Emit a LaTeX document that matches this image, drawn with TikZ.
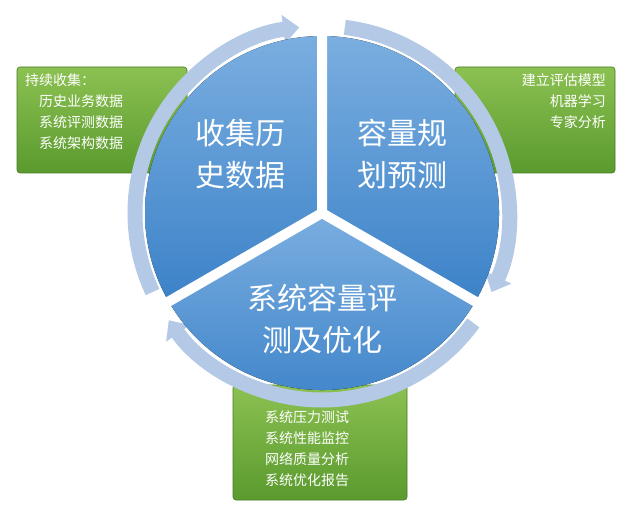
\documentclass[tikz,border=0pt]{standalone}
\usepackage{fontspec}
\setmainfont{Noto Sans CJK SC}
\usetikzlibrary{arrows.meta}
\definecolor{gtop}{HTML}{8CC152}
\definecolor{gbot}{HTML}{5A9A2E}
\definecolor{btop}{HTML}{7AAEE0}
\definecolor{bbot}{HTML}{3C82C8}
\definecolor{ring}{HTML}{B3C9E6}
\tikzset{
  gbox/.style={draw=gbot!80!black,line width=0.6pt,rounded corners=3pt,top color=gtop,bottom color=gbot},
  gtxt/.style={text=white,font=\fontsize{14}{21}\selectfont,inner sep=0pt},
  sector/.style={top color=btop,bottom color=bbot,draw=none},
  big/.style={text=white,font=\fontsize{30}{42}\selectfont,align=center},
  ringarc/.style={draw=ring,line width=15pt,-{Triangle[width=28pt,length=16pt]}},
}
\begin{document}
\begin{tikzpicture}[x=1pt,y=1pt]
\useasboundingbox (0,0) rectangle (640,507);
\fill[white] (0,0) rectangle (640,507);
% green boxes
\draw[gbox] (17,334) rectangle (187,440);
\draw[gbox] (455,334) rectangle (615,440);
\draw[gbox] (233,7) rectangle (407,122);
\node[gtxt,anchor=north west,align=left] (lt) at (25,434) {持续收集：\\\hspace{14pt}历史业务数据\\\hspace{14pt}系统评测数据\\\hspace{14pt}系统架构数据};
\node[gtxt,anchor=north east,align=right] (rt) at (606,434) {建立评估模型\\机器学习\\专家分析};
\node[gtxt,anchor=north west,align=left] (bt) at (265,97) {系统压力测试\\系统性能监控\\网络质量分析\\系统优化报告};
% ring
\coordinate (C) at (322,294);
\draw[ringarc] ([shift={(205:187)}]C) arc[start angle=205,end angle=97,radius=187];
\draw[ringarc] ([shift={(83:187)}]C) arc[start angle=83,end angle=-25,radius=187];
\draw[ringarc] ([shift={(-36:187)}]C) arc[start angle=-36,end angle=-145,radius=187];
% pie
\fill[sector] (C) -- ++(90:177) arc[start angle=90,end angle=210,radius=177] -- cycle;
\fill[sector] (C) -- ++(-30:177) arc[start angle=-30,end angle=90,radius=177] -- cycle;
\fill[sector] (C) -- ++(210:177) arc[start angle=210,end angle=330,radius=177] -- cycle;
\draw[white,line width=10pt] (C) -- ++(90:185) (C) -- ++(210:185) (C) -- ++(-30:185);
\node[big] (s1) at (240,353) {收集历\\史数据};
\node[big] (s2) at (402,353) {容量规\\划预测};
\node[big] (s3) at (322,188) {系统容量评\\测及优化};
\end{tikzpicture}
\end{document}
